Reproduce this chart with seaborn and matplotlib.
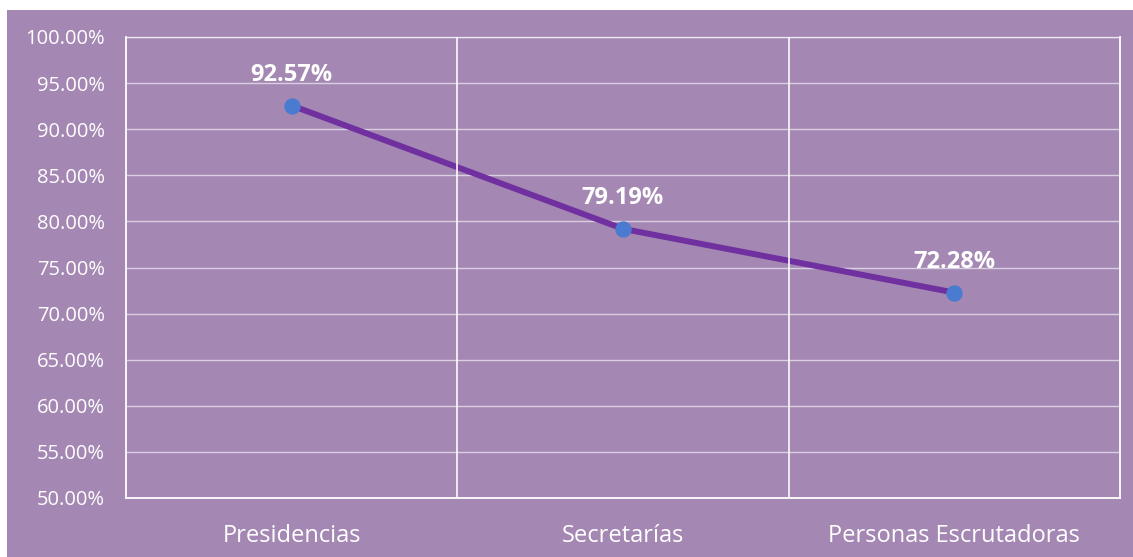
import matplotlib
matplotlib.use('Agg')
import matplotlib.pyplot as plt
import seaborn as sns
import pandas as pd
from matplotlib.patches import Rectangle
from matplotlib.ticker import FuncFormatter, MultipleLocator

categorias = ['Presidencias', 'Secretarías', 'Personas Escrutadoras']
porcentajes = [92.57, 79.19, 72.28]

df = pd.DataFrame({'cargo': categorias, 'pct': porcentajes})

sns.set_style('white')
plt.rcParams['font.family'] = ['Open Sans', 'DejaVu Sans']

bg = '#a488b3'
fig = plt.figure(figsize=(11.33, 5.57), dpi=100, facecolor='white')
fig.patches.append(Rectangle((7 / 1133, 0), 1, 1 - 10 / 557, transform=fig.transFigure,
                             facecolor=bg, edgecolor='none', zorder=-10))
ax = fig.add_axes([126 / 1133, 59 / 557, 994 / 1133, 461 / 557])
ax.set_facecolor(bg)

sns.lineplot(data=df, x='cargo', y='pct', ax=ax, color='#7030a0', linewidth=4.3,
             marker='o', markersize=11, markerfacecolor='#4a7bd0',
             markeredgecolor='#4a7bd0', sort=False)

ax.set_xlim(-0.5, 2.5)
ax.set_ylim(50, 100)
ax.yaxis.set_major_locator(MultipleLocator(5))
ax.yaxis.set_major_formatter(FuncFormatter(lambda v, p: f'{v:.2f}%'))

ax.grid(axis='y', color='white', linewidth=1, alpha=0.6)
for xb in [0.5, 1.5]:
    ax.axvline(xb, color='white', linewidth=1.3, alpha=0.9)
for s in ax.spines.values():
    s.set_color('white')
    s.set_linewidth(1.3)
ax.spines['top'].set_linewidth(1)
ax.spines['top'].set_alpha(0.6)

ax.tick_params(axis='y', colors='white', labelsize=14.5, length=0, pad=15)
ax.tick_params(axis='x', colors='white', labelsize=17, length=0, pad=19)
for lbl in ax.get_yticklabels() + ax.get_xticklabels():
    lbl.set_fontweight('medium')
ax.set_xlabel('')
ax.set_ylabel('')

for i, v in enumerate(porcentajes):
    ax.annotate(f'{v:.2f}%', (i, v), xytext=(0, 18), textcoords='offset points',
                ha='center', va='baseline', color='white', fontsize=17, fontweight='bold')

fig.savefig('out.png', dpi=100, facecolor=fig.get_facecolor())
